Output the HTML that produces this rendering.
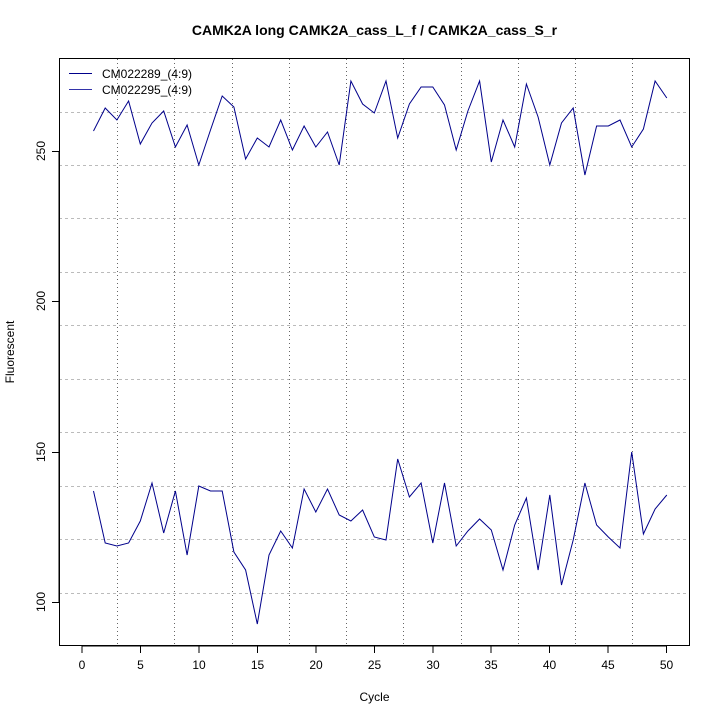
<!DOCTYPE html>
<html><head><meta charset="utf-8"><style>body{margin:0;background:#fff}svg{display:block}text{font-family:"Liberation Sans",sans-serif}</style></head>
<body>
<svg width="720" height="720" viewBox="0 0 720 720" xmlns="http://www.w3.org/2000/svg">
<rect width="720" height="720" fill="#fff"/>
<g stroke="#bbb" stroke-dasharray="3,3" stroke-width="1">
<line x1="59" x2="690" y1="112.5" y2="112.5"/><line x1="59" x2="690" y1="165.5" y2="165.5"/><line x1="59" x2="690" y1="218.5" y2="218.5"/><line x1="59" x2="690" y1="272.5" y2="272.5"/><line x1="59" x2="690" y1="325.5" y2="325.5"/><line x1="59" x2="690" y1="379.5" y2="379.5"/><line x1="59" x2="690" y1="432.5" y2="432.5"/><line x1="59" x2="690" y1="486.5" y2="486.5"/><line x1="59" x2="690" y1="539.5" y2="539.5"/><line x1="59" x2="690" y1="593.5" y2="593.5"/>
</g>
<g stroke="#666" stroke-dasharray="1,3" stroke-width="1">
<line y1="59" y2="646" x1="117.5" x2="117.5"/><line y1="59" y2="646" x1="174.5" x2="174.5"/><line y1="59" y2="646" x1="232.5" x2="232.5"/><line y1="59" y2="646" x1="289.5" x2="289.5"/><line y1="59" y2="646" x1="346.5" x2="346.5"/><line y1="59" y2="646" x1="403.5" x2="403.5"/><line y1="59" y2="646" x1="461.5" x2="461.5"/><line y1="59" y2="646" x1="518.5" x2="518.5"/><line y1="59" y2="646" x1="575.5" x2="575.5"/><line y1="59" y2="646" x1="632.5" x2="632.5"/>
</g>
<rect x="59.5" y="58.5" width="630" height="587" fill="none" stroke="#000"/>
<g fill="none" stroke="#00008b" stroke-width="1">
<polyline points="93.5,131 105.2,108 116.9,120 128.6,101 140.3,144 152,123 163.7,111 175.4,147 187.1,125 198.8,165 210.5,130 222.2,96 233.9,107 245.6,159 257.3,138 269,147 280.7,120 292.4,150 304.1,126 315.8,147 327.5,132 339.2,165 350.9,81 362.6,104 374.3,113 386,81 397.7,138 409.4,104 421.1,87 432.8,87 444.5,105 456.2,150 467.9,111 479.6,81 491.3,162 503,120 514.7,147 526.4,84 538.1,117 549.8,165 561.5,123 573.2,108 584.9,175 596.6,126 608.3,126 620,120 631.7,147 643.4,129 655.1,81 666.8,98"/>
<polyline points="93.5,491 105.2,543 116.9,546 128.6,543 140.3,521 152,483 163.7,533 175.4,491 187.1,555 198.8,486 210.5,491 222.2,491 233.9,552 245.6,570 257.3,624 269,555 280.7,531 292.4,548 304.1,489 315.8,512 327.5,489 339.2,515 350.9,521 362.6,510 374.3,537 386,540 397.7,459 409.4,497 421.1,483 432.8,543 444.5,483 456.2,546 467.9,531 479.6,519 491.3,530 503,570 514.7,525 526.4,498 538.1,570 549.8,495 561.5,585 573.2,540 584.9,483 596.6,525 608.3,537 620,548 631.7,452 643.4,534 655.1,509 666.8,495"/>
<line x1="69" x2="92" y1="73.5" y2="73.5"/><line x1="69" x2="92" y1="89.5" y2="89.5" stroke="#3333aa"/>
</g>
<text x="102" y="78" font-size="12">CM022289_(4:9)</text>
<text x="102" y="94" font-size="12">CM022295_(4:9)</text>
<g stroke="#000">
<line x1="82" x2="666.5" y1="646" y2="646"/>
<line x1="82" x2="82" y1="646" y2="653"/><line x1="140.5" x2="140.5" y1="646" y2="653"/><line x1="199" x2="199" y1="646" y2="653"/><line x1="257.5" x2="257.5" y1="646" y2="653"/><line x1="316" x2="316" y1="646" y2="653"/><line x1="374.5" x2="374.5" y1="646" y2="653"/><line x1="433" x2="433" y1="646" y2="653"/><line x1="491" x2="491" y1="646" y2="653"/><line x1="549.5" x2="549.5" y1="646" y2="653"/><line x1="608" x2="608" y1="646" y2="653"/><line x1="666.5" x2="666.5" y1="646" y2="653"/>
<line x1="59" x2="59" y1="151" y2="602"/>
<line x1="52" x2="59" y1="151.5" y2="151.5"/><line x1="52" x2="59" y1="301.5" y2="301.5"/><line x1="52" x2="59" y1="452.5" y2="452.5"/><line x1="52" x2="59" y1="602.5" y2="602.5"/>
</g>
<g font-size="12" text-anchor="middle">
<text x="82" y="669">0</text><text x="140.5" y="669">5</text><text x="199" y="669">10</text><text x="257.5" y="669">15</text><text x="316" y="669">20</text><text x="374.5" y="669">25</text><text x="433" y="669">30</text><text x="491" y="669">35</text><text x="549.5" y="669">40</text><text x="608" y="669">45</text><text x="666.5" y="669">50</text>
<text transform="translate(45,151) rotate(-90)">250</text>
<text transform="translate(45,301) rotate(-90)">200</text>
<text transform="translate(45,452) rotate(-90)">150</text>
<text transform="translate(45,602) rotate(-90)">100</text>
<text x="374.5" y="701">Cycle</text>
<text transform="translate(14,352) rotate(-90)">Fluorescent</text>
<text x="374.5" y="35" font-weight="bold" font-size="14">CAMK2A long CAMK2A_cass_L_f / CAMK2A_cass_S_r</text>
</g>
</svg>
</body></html>
